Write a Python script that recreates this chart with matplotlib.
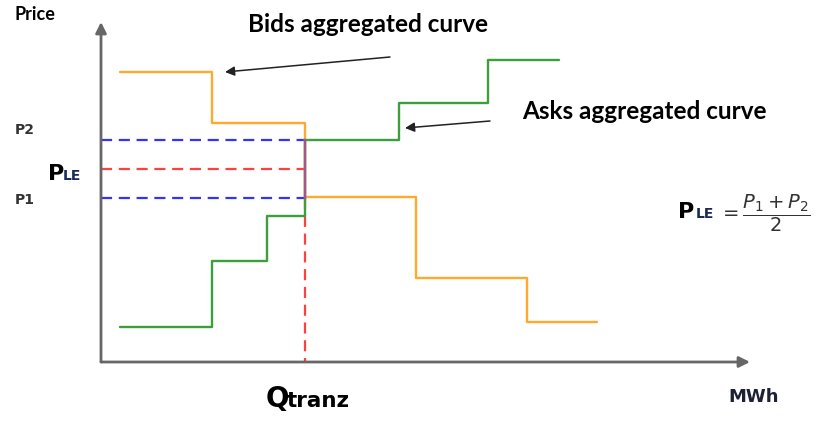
"""bids / asks aggregated curves with clearing price"""
import numpy as np
import matplotlib
matplotlib.use('Agg')
import matplotlib.pyplot as plt

# quantity / price values (arbitrary units)
bid_q = [2.0, 11.2, 20.5, 31.6, 42.7, 49.7]
bid_p = [28.8, 23.7, 16.3, 8.2, 3.8]
ask_q = [2.0, 11.2, 16.7, 20.5, 29.9, 38.8, 45.9]
ask_p = [3.3, 9.9, 14.4, 22.0, 25.7, 30.0]
P1 = 16.2
P2 = 22.0
PLE = (P1 + P2) / 2
Q = 20.5

ORANGE = '#ffaa2e'
GREEN = '#3c9e3c'
BLUE = '#3333ff'
RED = '#ff4040'
AXC = '#666666'

fig = plt.figure(figsize=(8.33, 4.22), dpi=100)
ax = fig.add_axes([0, 0, 1, 1])
ax.set_xlim(-10, 73.3)
ax.set_ylim(-6.2, 36.0)
ax.axis('off')

# axes with arrows
ax.annotate('', xy=(0.1, 33.8), xytext=(0.1, -0.2),
            arrowprops=dict(arrowstyle='-|>', color=AXC, lw=2, mutation_scale=16,
                            shrinkA=0, shrinkB=0))
ax.annotate('', xy=(65.0, -0.2), xytext=(0.1, -0.2),
            arrowprops=dict(arrowstyle='-|>', color=AXC, lw=2, mutation_scale=16,
                            shrinkA=0, shrinkB=0))

# dashed guide lines
ax.plot([0.1, Q], [P2, P2], color=BLUE, lw=1.6, dashes=(5, 3))
ax.plot([0.1, Q], [P1, P1], color=BLUE, lw=1.6, dashes=(5, 3))
ax.plot([0.1, Q], [PLE, PLE], color=RED, lw=1.6, dashes=(5, 3))
ax.plot([Q, Q], [P1, -0.2], color=RED, lw=1.6, dashes=(5, 3))

# curves
ax.step(bid_q, bid_p + [bid_p[-1]], where='post', color=ORANGE, lw=1.7,
        solid_joinstyle='round', solid_capstyle='round')
ax.step(ask_q, ask_p + [ask_p[-1]], where='post', color=GREEN, lw=1.7,
        solid_joinstyle='round', solid_capstyle='round')
ax.plot([Q, Q], [P1, P2], color='#a0588a', lw=1.7)

# label arrows
ax.annotate('', xy=(12.5, 28.8), xytext=(29.0, 30.3),
            arrowprops=dict(arrowstyle='-|>', color='#222222', lw=1.1,
                            mutation_scale=14, shrinkA=0, shrinkB=0))
ax.annotate('', xy=(30.5, 23.2), xytext=(39.0, 23.9),
            arrowprops=dict(arrowstyle='-|>', color='#222222', lw=1.1,
                            mutation_scale=14, shrinkA=0, shrinkB=0))

# texts
ax.text(-8.6, 34.5, 'Price', family='Lato', fontweight='bold', fontsize=13,
        ha='left', va='center')
ax.text(26.75, 32.8, 'Bids aggregated curve', family='Lato', fontweight='bold',
        fontsize=17.5, ha='center', va='baseline')
ax.text(54.4, 24.1, 'Asks aggregated curve', family='Lato', fontweight='bold',
        fontsize=17.5, ha='center', va='baseline')
ax.text(-8.5, 23.0, 'P2', fontweight='bold', fontsize=10, color='#333333',
        ha='left', va='center')
ax.text(-8.5, 16.0, 'P1', fontweight='bold', fontsize=10, color='#333333',
        ha='left', va='center')
ax.text(-5.2, 18.0, 'P', fontweight='bold', fontsize=16, ha='left', va='baseline')
ax.text(-3.7, 18.0, 'LE', fontweight='bold', fontsize=10, color='#1a2a5a',
        ha='left', va='baseline')

ax.text(16.6, -4.7, 'Q', fontweight='bold', fontsize=20, ha='left', va='baseline')
ax.text(18.7, -4.7, 'tranz', fontweight='bold', fontsize=15.5, ha='left',
        va='baseline')
ax.text(65.4, -4.2, 'MWh', fontweight='bold', fontsize=13, color='#1c2233',
        ha='center', va='baseline')

ax.text(57.8, 14.2, 'P', fontweight='bold', fontsize=16, ha='left', va='baseline')
ax.text(59.6, 14.2, 'LE', fontweight='bold', fontsize=10, color='#1a2a5a',
        ha='left', va='baseline')
ax.text(61.9, 14.7, r'$=\dfrac{P_1+P_2}{2}$', fontsize=14, color='#333333',
        ha='left', va='center')

fig.savefig('out.png', dpi=100)
